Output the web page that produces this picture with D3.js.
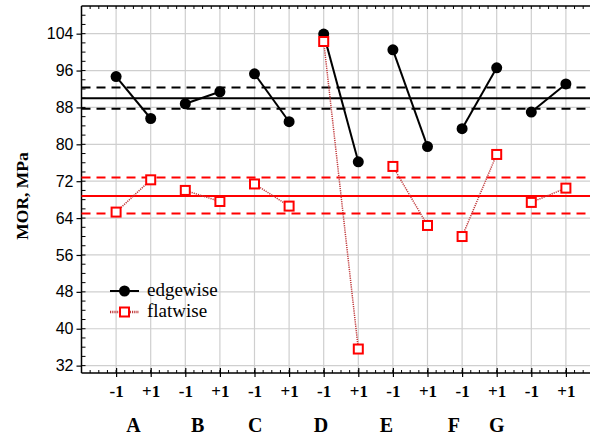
<!DOCTYPE html>
<html>
<head>
<meta charset="utf-8">
<script src="https://cdn.jsdelivr.net/npm/d3@7/dist/d3.min.js"></script>
<style>
  html, body { margin: 0; padding: 0; background: #fff; }
  svg { display: block; }
</style>
</head>
<body>
<svg id="chart" width="590" height="438"></svg>
<script>
// ---- data ----
const xTickLabels = ["-1","+1","-1","+1","-1","+1","-1","+1","-1","+1","-1","+1","-1","+1"];
const groups = ["A","B","C","D","E","F","G"];
const groupLabelPos = [1.5, 3.36, 5.02, 6.92, 8.81, 10.76, 12.0];
const edgewise = [94.7, 85.6, 88.8, 91.4, 95.3, 84.9, 103.9, 76.2, 100.5, 79.5, 83.4, 96.6, 87.0, 93.1];
const flatwise = [65.3, 72.3, 70.0, 67.6, 71.4, 66.6, 102.3, 35.6, 75.2, 62.4, 60.0, 77.8, 67.4, 70.5];
const edgeMean = 90.0, edgeUpper = 92.3, edgeLower = 87.7;
const flatMean = 68.8, flatUpper = 72.8, flatLower = 65.0;
const yTicks = [32, 40, 48, 56, 64, 72, 80, 88, 96, 104];
const seriesNames = ["edgewise", "flatwise"];

(function () {
const SERIF = "'Liberation Serif', 'Times New Roman', serif";
const SANS = "'Liberation Sans', Arial, sans-serif";
// ---- layout ----
const svg = d3.select("#chart");
const pL = 81.5, pT = 6, pB = 373, pR = 600.5;
const x = d3.scaleLinear().domain([0, 15]).range([pL, pR]);
const y = d3.scaleLinear().domain([30.4, 110]).range([pB, pT]);

// gridlines
const grid = svg.append("g");
grid.selectAll("line.v").data(d3.range(1, 15)).join("line")
  .attr("x1", d => x(d)).attr("x2", d => x(d))
  .attr("y1", pT).attr("y2", pB)
  .attr("stroke", "#cfcfcf").attr("stroke-width", 1.2);
grid.selectAll("line.h").data(yTicks).join("line")
  .attr("x1", pL).attr("x2", pR)
  .attr("y1", d => y(d)).attr("y2", d => y(d))
  .attr("stroke", "#cfcfcf").attr("stroke-width", 1.2);

// left axis
const axL = svg.append("g").attr("transform", `translate(${pL},0)`)
  .call(d3.axisLeft(y).tickValues(yTicks).tickSize(5).tickPadding(3).tickFormat(d3.format("d")));
axL.select(".domain").remove();
axL.selectAll("text").attr("font-family", SANS).attr("font-size", 16).attr("fill", "#000");
axL.selectAll("line").attr("stroke", "#000").attr("stroke-width", 1.2);

// minor y ticks inward
svg.append("g").selectAll("line").data(d3.range(32, 110, 2)).join("line")
  .attr("x1", pL).attr("x2", pL + 4)
  .attr("y1", d => y(d)).attr("y2", d => y(d))
  .attr("stroke", "#000").attr("stroke-width", 1);

// minor x ticks (bottom & top) inward
const xMinor = d3.range(0, 15.01, 0.25);
svg.append("g").selectAll("line").data(xMinor).join("line")
  .attr("x1", d => x(d)).attr("x2", d => x(d))
  .attr("y1", pB).attr("y2", pB - 3)
  .attr("stroke", "#000").attr("stroke-width", 1);
svg.append("g").selectAll("line").data(xMinor).join("line")
  .attr("x1", d => x(d)).attr("x2", d => x(d))
  .attr("y1", pT).attr("y2", pT + 3)
  .attr("stroke", "#000").attr("stroke-width", 1);

// bottom axis with labels
const axB = svg.append("g").attr("transform", `translate(0,${pB})`)
  .call(d3.axisBottom(x).tickValues(d3.range(1, 15)).tickSize(4).tickPadding(8)
    .tickFormat(d => xTickLabels[d - 1]));
axB.select(".domain").remove();
axB.selectAll("line").attr("stroke", "#000").attr("stroke-width", 1.2).attr("y1", -5);
axB.selectAll("text").attr("font-family", SERIF)
  .attr("font-weight", "bold").attr("font-size", 17).attr("fill", "#000");

// frame lines
svg.append("line").attr("x1", pL).attr("x2", pL).attr("y1", pT).attr("y2", pB)
  .attr("stroke", "#000").attr("stroke-width", 1.5);
svg.append("line").attr("x1", pL).attr("x2", pR).attr("y1", pT).attr("y2", pT)
  .attr("stroke", "#000").attr("stroke-width", 1.5);
svg.append("line").attr("x1", pL).attr("x2", pR).attr("y1", pB).attr("y2", pB)
  .attr("stroke", "#000").attr("stroke-width", 1.5);

// group labels
svg.append("g").selectAll("text").data(groups).join("text")
  .attr("x", (d, i) => x(groupLabelPos[i])).attr("y", 432)
  .attr("text-anchor", "middle")
  .attr("font-family", SERIF)
  .attr("font-weight", "bold").attr("font-size", 20)
  .text(d => d);

// y axis title
svg.append("text")
  .attr("transform", `translate(28,196) rotate(-90)`)
  .attr("text-anchor", "middle")
  .attr("font-family", SERIF)
  .attr("font-weight", "bold").attr("font-size", 17.5)
  .text("MOR, MPa");

// reference lines
function hline(v, color, dashed) {
  svg.append("line").attr("x1", pL).attr("x2", pR)
    .attr("y1", y(v)).attr("y2", y(v))
    .attr("stroke", color).attr("stroke-width", 2)
    .attr("stroke-dasharray", dashed ? "9,6" : null);
}
hline(edgeMean, "#000", false);
hline(edgeUpper, "#000", true);
hline(edgeLower, "#000", true);
hline(flatMean, "#ff0000", false);
hline(flatUpper, "#ff0000", true);
hline(flatLower, "#ff0000", true);

// pairs
const pairs = d3.range(7);
svg.append("g").selectAll("line").data(pairs).join("line")
  .attr("x1", i => x(2 * i + 1)).attr("y1", i => y(edgewise[2 * i]))
  .attr("x2", i => x(2 * i + 2)).attr("y2", i => y(edgewise[2 * i + 1]))
  .attr("stroke", "#000").attr("stroke-width", 2);
svg.append("g").selectAll("circle").data(edgewise).join("circle")
  .attr("cx", (d, i) => x(i + 1)).attr("cy", d => y(d)).attr("r", 5.5).attr("fill", "#000");

svg.append("g").selectAll("line").data(pairs).join("line")
  .attr("x1", i => x(2 * i + 1)).attr("y1", i => y(flatwise[2 * i]))
  .attr("x2", i => x(2 * i + 2)).attr("y2", i => y(flatwise[2 * i + 1]))
  .attr("stroke", "#c0393b").attr("stroke-width", 1.5).attr("stroke-dasharray", "1.2,1");
const sq = 9;
svg.append("g").selectAll("rect").data(flatwise).join("rect")
  .attr("x", (d, i) => x(i + 1) - sq / 2).attr("y", d => y(d) - sq / 2)
  .attr("width", sq).attr("height", sq)
  .attr("fill", "#fff").attr("stroke", "#ff0000").attr("stroke-width", 2);

// legend
const lg = svg.append("g");
const lx0 = 110, lx1 = 139, lcx = 124.5;
const ly = [291, 312];
lg.append("line").attr("x1", lx0).attr("x2", lx1).attr("y1", ly[0]).attr("y2", ly[0])
  .attr("stroke", "#000").attr("stroke-width", 2);
lg.append("circle").attr("cx", lcx).attr("cy", ly[0]).attr("r", 5.5).attr("fill", "#000");
lg.append("line").attr("x1", lx0).attr("x2", lx1).attr("y1", ly[1]).attr("y2", ly[1])
  .attr("stroke", "#c0393b").attr("stroke-width", 2.5).attr("stroke-dasharray", "1.2,1");
lg.append("rect").attr("x", lcx - sq / 2).attr("y", ly[1] - sq / 2).attr("width", sq).attr("height", sq)
  .attr("fill", "#fff").attr("stroke", "#ff0000").attr("stroke-width", 2);
lg.selectAll("text").data(seriesNames).join("text")
  .attr("x", 147).attr("y", (d, i) => ly[i] + 5)
  .attr("font-family", SERIF)
  .attr("font-size", 19).text(d => d);
})();
</script>
</body>
</html>
